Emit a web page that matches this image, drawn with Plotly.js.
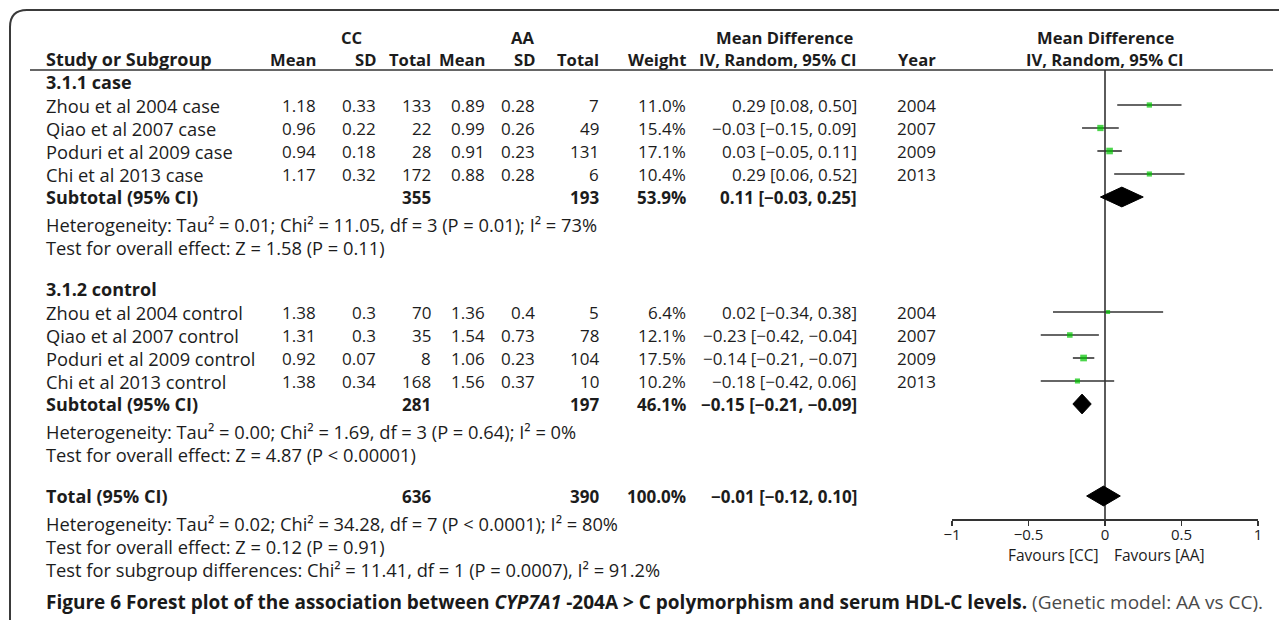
<!DOCTYPE html>
<html>
<head>
<meta charset="utf-8">
<script src="https://cdn.plot.ly/plotly-3.0.1.min.js"></script>
<style>html,body{margin:0;padding:0;background:#fff;}#chart{width:1279px;height:620px;}</style>
</head>
<body>
<div id="chart"></div>
<script>
// ---------- data ----------
const subgroups = ["3.1.1 case", "3.1.2 control"];
const studies = ["Zhou et al 2004 case", "Qiao et al 2007 case", "Poduri et al 2009 case", "Chi et al 2013 case",
                 "Zhou et al 2004 control", "Qiao et al 2007 control", "Poduri et al 2009 control", "Chi et al 2013 control"];
const ccMean  = [1.18, 0.96, 0.94, 1.17, 1.38, 1.31, 0.92, 1.38];
const ccSD    = [0.33, 0.22, 0.18, 0.32, 0.3, 0.3, 0.07, 0.34];
const ccTotal = [133, 22, 28, 172, 70, 35, 8, 168];
const aaMean  = [0.89, 0.99, 0.91, 0.88, 1.36, 1.54, 1.06, 1.56];
const aaSD    = [0.28, 0.26, 0.23, 0.28, 0.4, 0.73, 0.23, 0.37];
const aaTotal = [7, 49, 131, 6, 5, 78, 104, 10];
const weight  = [11.0, 15.4, 17.1, 10.4, 6.4, 12.1, 17.5, 10.2];
const md      = [0.29, -0.03, 0.03, 0.29, 0.02, -0.23, -0.14, -0.18];
const ciLow   = [0.08, -0.15, -0.05, 0.06, -0.34, -0.42, -0.21, -0.42];
const ciHigh  = [0.50, 0.09, 0.11, 0.52, 0.38, -0.04, -0.07, 0.06];
const years   = [2004, 2007, 2009, 2013, 2004, 2007, 2009, 2013];

const pooledLabels = ["Subtotal (95% CI)", "Subtotal (95% CI)", "Total (95% CI)"];
const pooledCC     = [355, 281, 636];
const pooledAA     = [193, 197, 390];
const pooledWeight = [53.9, 46.1, 100.0];
const pooledMD     = [0.11, -0.15, -0.01];
const pooledLow    = [-0.03, -0.21, -0.12];
const pooledHigh   = [0.25, -0.09, 0.10];

const hetText = [
  "Heterogeneity: Tau² = 0.01; Chi² = 11.05, df = 3 (P = 0.01); I² = 73%",
  "Heterogeneity: Tau² = 0.00; Chi² = 1.69, df = 3 (P = 0.64); I² = 0%",
  "Heterogeneity: Tau² = 0.02; Chi² = 34.28, df = 7 (P < 0.0001); I² = 80%"];
const effectText = [
  "Test for overall effect: Z = 1.58 (P = 0.11)",
  "Test for overall effect: Z = 4.87 (P < 0.00001)",
  "Test for overall effect: Z = 0.12 (P = 0.91)"];
const subgroupTestText = "Test for subgroup differences: Chi² = 11.41, df = 1 (P = 0.0007), I² = 91.2%";
const axisTicks = [-1, -0.5, 0, 0.5, 1];
const favours = ["Favours [CC]", "Favours [AA]"];
const captionText = "<b>Figure 6 Forest plot of the association between <i>CYP7A1</i> -204A &gt; C polymorphism and serum HDL-C levels.</b> <span style=\"color:#4a4a4a\">(Genetic model: AA vs CC).</span>";

// ---------- layout constants (row slots & columns) ----------
const W = 1279, H = 620;
const subgroupRow = [0, 9.0];
const studyRow = [1, 2, 3, 4, 10, 11, 12, 13];
const pooledRow = [5, 14, 18];
const hetRow = [6.2, 15.2, 19.2];
const effectRow = [7.2, 16.2, 20.2];
const subgroupTestRow = 21.2;
const captionRow = 22.6;
const col = {label: 44, ccMean: 318, ccSD: 378, ccTotal: 433, aaMean: 487, aaSD: 537, aaTotal: 601, weight: 688, ci: 859, year: 938};

const FONT = "'Open Sans', 'Noto Sans', sans-serif";
const TXT = "#1c1c1c";
const FS_LABEL = 18.3, FS_NUM = 17, FS_HEAD = 16.6;

function fmt2(v) { return (v < 0 ? "\u2212" : "") + Math.abs(v).toFixed(2); }
function ciStr(m, l, h) { return fmt2(m) + " [" + fmt2(l) + ", " + fmt2(h) + "]"; }

const ann = [];
function A(px, row, text, anchor, bold, size, extra) {
  const o = {xref: "paper", yref: "y", x: px / W, y: row, text: bold ? "<b>" + text + "</b>" : text,
    showarrow: false, xanchor: anchor || "left", yanchor: "middle", yshift: 0,
    font: {family: FONT, size: size || FS_NUM, color: TXT}};
  return ann.push(Object.assign(o, extra || {}));
}

// header
A(352, -2, "CC", "center", true, FS_HEAD, {yshift: -1});
A(522, -2, "AA", "center", true, FS_HEAD, {yshift: -1});
A(784, -2, "Mean Difference", "center", true, FS_HEAD, {yshift: -1});
A(1105, -2, "Mean Difference", "center", true, FS_HEAD, {yshift: -1});
A(col.label, -1, "Study or Subgroup", "left", true, 18);
A(col.ccMean, -1, "Mean", "right", true, FS_HEAD);
A(col.ccSD, -1, "SD", "right", true, FS_HEAD);
A(col.ccTotal, -1, "Total", "right", true, FS_HEAD);
A(col.aaMean, -1, "Mean", "right", true, FS_HEAD);
A(col.aaSD, -1, "SD", "right", true, FS_HEAD);
A(col.aaTotal, -1, "Total", "right", true, FS_HEAD);
A(col.weight, -1, "Weight", "right", true, FS_HEAD);
A(col.ci, -1, "IV, Random, 95% CI", "right", true, FS_HEAD);
A(col.year, -1, "Year", "right", true, FS_HEAD);
A(1105, -1, "IV, Random, 95% CI", "center", true, FS_HEAD);

subgroups.forEach((s, i) => A(col.label, subgroupRow[i], s, "left", true, 18));
studies.forEach((s, i) => {
  const r = studyRow[i];
  A(col.label, r, s, "left", false, FS_LABEL);
  A(col.ccMean, r, String(ccMean[i]), "right");
  A(col.ccSD, r, String(ccSD[i]), "right");
  A(col.ccTotal, r, String(ccTotal[i]), "right");
  A(col.aaMean, r, String(aaMean[i]), "right");
  A(col.aaSD, r, String(aaSD[i]), "right");
  A(col.aaTotal, r, String(aaTotal[i]), "right");
  A(col.weight, r, weight[i].toFixed(1) + "%", "right");
  A(col.ci, r, ciStr(md[i], ciLow[i], ciHigh[i]), "right");
  A(col.year, r, String(years[i]), "right");
});
pooledLabels.forEach((s, i) => {
  const r = pooledRow[i];
  A(col.label, r, s, "left", true, 18);
  A(col.ccTotal, r, String(pooledCC[i]), "right", true);
  A(col.aaTotal, r, String(pooledAA[i]), "right", true);
  A(col.weight, r, pooledWeight[i].toFixed(1) + "%", "right", true);
  A(col.ci, r, ciStr(pooledMD[i], pooledLow[i], pooledHigh[i]), "right", true);
  A(col.label, hetRow[i], hetText[i], "left", false, FS_LABEL);
  A(col.label, effectRow[i], effectText[i], "left", false, FS_LABEL);
});
A(col.label, subgroupTestRow, subgroupTestText, "left", false, FS_LABEL);
A(col.label, captionRow, captionText, "left", false, 19, {font: {family: FONT, size: 19, color: "#1a1a1a"}});

// favours labels (under the axis)
ann.push({xref: "x", yref: "paper", x: 0, y: 1 - 555 / H, text: favours[0], showarrow: false, xanchor: "right", yanchor: "middle", xshift: -4,
  font: {family: FONT, size: 15.5, color: TXT}});
ann.push({xref: "x", yref: "paper", x: 0, y: 1 - 555 / H, text: favours[1], showarrow: false, xanchor: "left", yanchor: "middle", xshift: 7,
  font: {family: FONT, size: 15.5, color: TXT}});

// ---------- traces ----------
const traces = [];
traces.push({
  type: "scatter", mode: "markers", x: md, y: studyRow,
  marker: {symbol: "square", color: "#00c400", size: weight.map(w => 1.6 * Math.sqrt(w)), line: {width: 0}},
  error_x: {type: "data", symmetric: false, array: ciHigh.map((h, i) => h - md[i]), arrayminus: md.map((m, i) => m - ciLow[i]),
    width: 0, thickness: 1.6, color: "#333"},
  hoverinfo: "skip", showlegend: false, cliponaxis: false
});
const HALF = 0.43;
pooledMD.forEach((m, i) => {
  const r = pooledRow[i];
  traces.push({
    type: "scatter", mode: "lines", fill: "toself", fillcolor: "#000",
    x: [pooledLow[i], m, pooledHigh[i], m, pooledLow[i]],
    y: [r, r - HALF, r, r + HALF, r],
    line: {color: "#000", width: 1}, hoverinfo: "skip", showlegend: false
  });
});

const P = (px, py) => (px / W).toFixed(5) + "," + (1 - py / H).toFixed(5);
const shapes = [
  {type: "path", xref: "paper", yref: "paper", path: "M " + P(10, 630) + " L " + P(10, 27) + " Q " + P(10, 10) + " " + P(27, 10) + " L " + P(1290, 10),
    line: {color: "#3a3a3a", width: 2}},
  {type: "line", xref: "paper", yref: "paper", x0: 30 / W, x1: 1273 / W, y0: 1 - 70 / H, y1: 1 - 70 / H, line: {color: "#333", width: 1.6}},
  {type: "line", xref: "x", yref: "paper", x0: 0, x1: 0, y0: 1 - 519 / H, y1: 1 - 70 / H, line: {color: "#333", width: 1.6}, layer: "below"}
];

const layout = {
  width: W, height: H, margin: {l: 0, r: 0, t: 0, b: 0},
  paper_bgcolor: "#fff", plot_bgcolor: "rgba(0,0,0,0)", showlegend: false,
  xaxis: {domain: [952 / W, 1258 / W], range: [-1, 1], anchor: "free", position: 1 - 519 / H,
    showline: true, linecolor: "#333", linewidth: 1.6, ticks: "outside", ticklen: 5, tickwidth: 1.6, tickcolor: "#333",
    tickvals: axisTicks, showgrid: false, zeroline: false, fixedrange: true, ticklabelstandoff: -4,
    tickfont: {family: FONT, size: 15, color: TXT}},
  yaxis: {domain: [0, 1], range: [(H - 82) / 23, -82 / 23], visible: false, showgrid: false, zeroline: false, fixedrange: true},
  annotations: ann, shapes: shapes
};

Plotly.newPlot("chart", traces, layout, {staticPlot: true, displayModeBar: false});
</script>
</body>
</html>
